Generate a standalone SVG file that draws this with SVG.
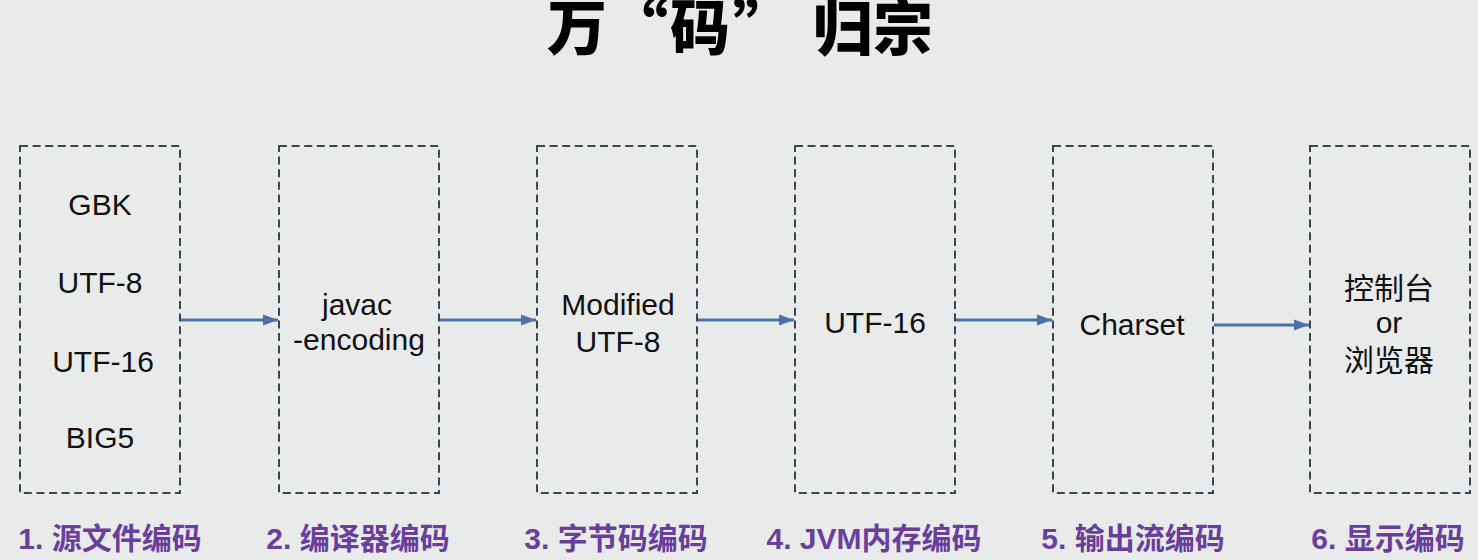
<svg xmlns="http://www.w3.org/2000/svg" width="1478" height="560" viewBox="0 0 1478 560">
<defs>
<marker id="ah" markerUnits="userSpaceOnUse" markerWidth="16" markerHeight="12" refX="15" refY="6" orient="auto">
<path d="M0,0.5 L15,6 L0,11.5 Z" fill="#4a72a6"/>
</marker>
</defs>
<style>
.box{fill:none;stroke:#3a4658;stroke-width:2;stroke-dasharray:8 4.6}
.t{font-family:"Liberation Sans","Noto Sans CJK SC",sans-serif;font-size:30px;fill:#111;text-anchor:middle}
.lab{font-family:"Liberation Sans","Noto Sans CJK SC",sans-serif;font-size:30px;font-weight:bold;fill:#6a3f9c;text-anchor:middle}
.title{font-family:"Noto Sans CJK SC",sans-serif;font-size:60px;font-weight:900;fill:#000}
.arr{stroke:#4a72a6;stroke-width:3;fill:none;marker-end:url(#ah)}
</style>
<rect width="1478" height="560" fill="#e9eaea"/>
<text class="title" x="547 608 670 733 813 873" y="50">万“码”归宗</text>
<g id="n1">
<rect class="box" x="20" y="146" width="160" height="347"/>
<text class="t" x="100" y="215">GBK</text>
<text class="t" x="100" y="293">UTF-8</text>
<text class="t" x="103" y="372">UTF-16</text>
<text class="t" x="100" y="448">BIG5</text>
<text class="lab" x="110" y="549">1. 源文件编码</text>
</g>
<g id="n2">
<rect class="box" x="279" y="146" width="160" height="347"/>
<text class="t" x="357" y="315">javac</text>
<text class="t" x="359" y="350">-encoding</text>
<text class="lab" x="358" y="549">2. 编译器编码</text>
</g>
<g id="n3">
<rect class="box" x="537" y="146" width="160" height="347"/>
<text class="t" x="618" y="315">Modified</text>
<text class="t" x="618" y="352">UTF-8</text>
<text class="lab" x="616" y="549">3. 字节码编码</text>
</g>
<g id="n4">
<rect class="box" x="795" y="146" width="160" height="347"/>
<text class="t" x="875" y="333">UTF-16</text>
<text class="lab" x="874" y="549">4. JVM内存编码</text>
</g>
<g id="n5">
<rect class="box" x="1053" y="146" width="160" height="347"/>
<text class="t" x="1132" y="335">Charset</text>
<text class="lab" x="1133" y="549">5. 输出流编码</text>
</g>
<g id="n6">
<rect class="box" x="1310" y="146" width="160" height="347"/>
<text class="t" x="1389" y="299">控制台</text>
<text class="t" x="1389" y="333">or</text>
<text class="t" x="1389" y="371">浏览器</text>
<text class="lab" x="1388" y="549">6. 显示编码</text>
</g>
<g id="connectors">
<line class="arr" x1="181" y1="320" x2="278" y2="320"/>
<line class="arr" x1="440" y1="320" x2="536" y2="320"/>
<line class="arr" x1="698" y1="320" x2="794" y2="320"/>
<line class="arr" x1="956" y1="320" x2="1052" y2="320"/>
<line class="arr" x1="1214" y1="325" x2="1309" y2="325"/>
</g>
</svg>
